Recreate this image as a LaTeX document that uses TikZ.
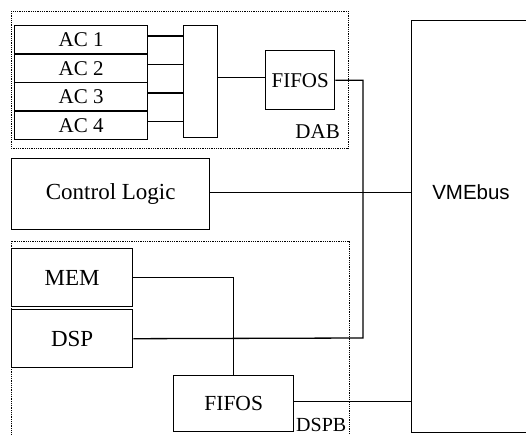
\documentclass[tikz,border=0pt]{standalone}
\usepackage{fontspec}
\setmainfont{Liberation Serif}
\newfontfamily\vmefont{Liberation Sans}
\begin{document}
\begin{tikzpicture}[x=1pt,y=-1pt,
  box/.style={draw, line width=1.4pt, inner sep=0pt, anchor=north west, font=\fontsize{21}{24}\selectfont},
  bigbox/.style={box, font=\fontsize{23}{26}\selectfont},
  conn/.style={line width=1.3pt},
  grp/.style={draw, line width=0.9pt, dash pattern=on 0.9pt off 0.9pt},
  lbl/.style={inner sep=0pt, font=\fontsize{21}{24}\selectfont}]
\useasboundingbox (0,0) rectangle (526,435);
\clip (0,0) rectangle (526,435);
% group frames
\draw[grp] (11,11) rectangle (348,148);
\draw[grp] (11,241) rectangle (349,460);
% DAB
\node[box, minimum width=133pt, minimum height=28.5pt] (ac1) at (14,25) {AC 1};
\node[box, minimum width=133pt, minimum height=28.5pt] (ac2) at (14,53.5) {AC 2};
\node[box, minimum width=133pt, minimum height=28.5pt] (ac3) at (14,82) {AC 3};
\node[box, minimum width=133pt, minimum height=28.5pt] (ac4) at (14,110.5) {AC 4};
\node[box, minimum width=34pt, minimum height=112pt] (mux) at (183,25) {};
\node[box, minimum width=69pt, minimum height=59pt] (fifo1) at (265,50) {FIFOS};
\node[lbl, anchor=east] (dab) at (340,132) {DAB};
% control
\node[bigbox, minimum width=198pt, minimum height=71pt] (ctrl) at (11,158) {Control Logic};
% DSPB
\node[bigbox, minimum width=121pt, minimum height=58pt] (mem) at (11,248) {MEM};
\node[bigbox, minimum width=121pt, minimum height=58pt] (dsp) at (11,309) {DSP};
\node[box, minimum width=120pt, minimum height=56pt, font=\fontsize{21.5}{24}\selectfont] (fifo2) at (173,375) {FIFOS};
\node[lbl, anchor=west, font=\fontsize{20}{24}\selectfont] (dspb) at (296,425) {DSPB};
% VMEbus
\node[box, minimum width=160pt, minimum height=412pt] (vme) at (411,20) {};
\node[lbl, font=\vmefont\fontsize{20.5}{24}\selectfont] (vmetxt) at (471,192) {VMEbus};
% connectors
\foreach \n in {ac1,ac2,ac3,ac4}
  \draw[conn] ([yshift=4pt]\n.east) -- ([yshift=4pt]\n.east -| mux.west);
\draw[conn] ([yshift=2.5pt]fifo1.west -| mux.east) -- ([yshift=2.5pt]fifo1.west);
\coordinate (j1) at (363,338);
\draw[conn] (fifo1.east) -| (j1) -- (dsp.east);
\draw[conn] ([yshift=1.5pt]ctrl.east) -- ([yshift=1.5pt]ctrl.east -| vme.west);
\draw[conn] (mem.east) -| (fifo2.north);
\draw[conn] ([yshift=2pt]fifo2.east) -- ([yshift=2pt]fifo2.east -| vme.west);
\end{tikzpicture}
\end{document}
